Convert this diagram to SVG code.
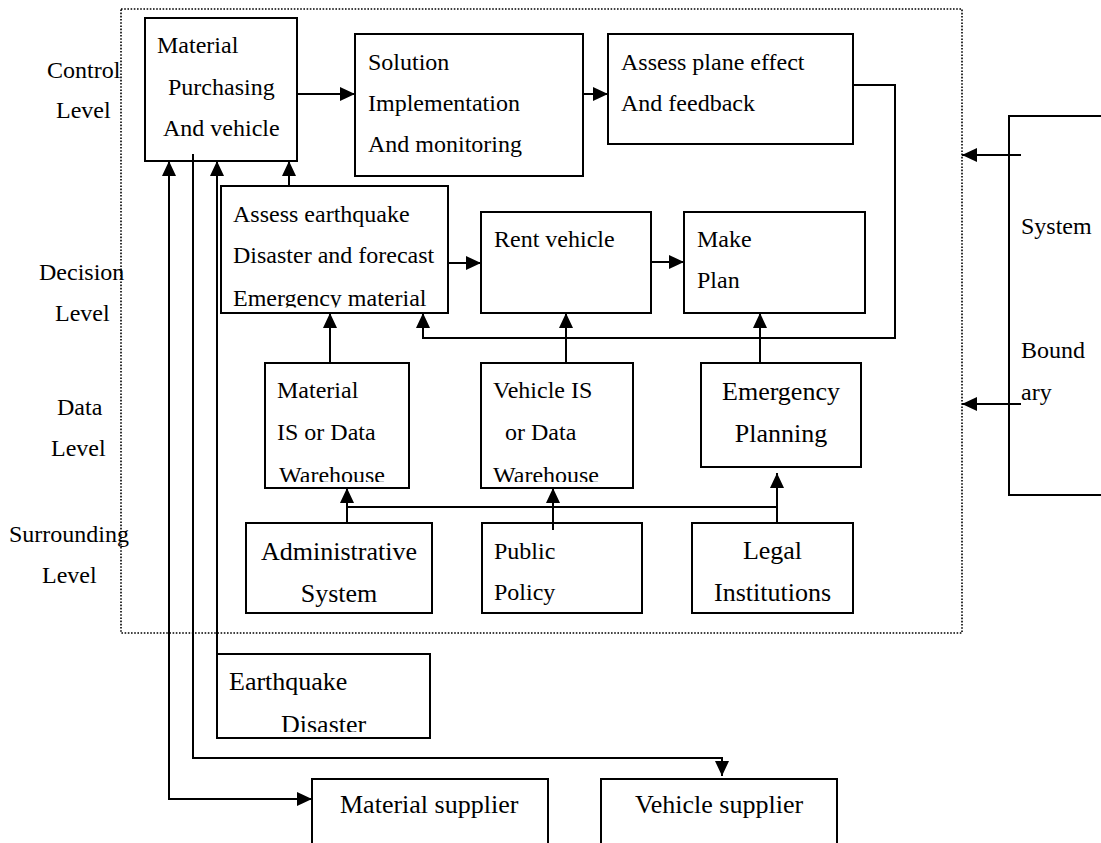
<svg xmlns="http://www.w3.org/2000/svg" width="1101" height="843" viewBox="0 0 1101 843">
  <style>
    .box { fill: #fff; stroke: #000; stroke-width: 2; }
    .frame { fill: none; stroke: #000; stroke-width: 1.6; stroke-dasharray: 1.6 1.6; }
    .t { font-family: "Liberation Serif", "Times New Roman", serif; font-size: 24px; fill: #000; }
    .tl { font-size: 26px; }
    .mid { text-anchor: middle; }
    .wire { fill: none; stroke: #000; stroke-width: 2; }
    .arr { marker-end: url(#head); }
  </style>
  <defs>
    <marker id="head" viewBox="0 0 15 14" refX="15" refY="7" markerWidth="15" markerHeight="14" markerUnits="userSpaceOnUse" orient="auto-start-reverse">
      <path d="M0,0 L15,7 L0,14 z" fill="#000"/>
    </marker>
    <clipPath id="clipEq"><rect x="220" y="186" width="228" height="121.5"/></clipPath>
    <clipPath id="clipWh1"><rect x="265" y="363" width="144" height="119"/></clipPath>
    <clipPath id="clipWh2"><rect x="481" y="363" width="152" height="119"/></clipPath>
    <clipPath id="clipDis"><rect x="217" y="654" width="213" height="78"/></clipPath>
  </defs>

  <!-- system frame -->
  <rect class="frame" x="121" y="9" width="841" height="624"/>

  <!-- level labels -->
  <g id="levels">
    <text class="t" x="47" y="78">Control</text>
    <text class="t" x="56" y="118">Level</text>
    <text class="t" x="39" y="280">Decision</text>
    <text class="t" x="55" y="321">Level</text>
    <text class="t" x="57" y="415">Data</text>
    <text class="t" x="51" y="456">Level</text>
    <text class="t" x="9" y="542">Surrounding</text>
    <text class="t" x="42" y="583">Level</text>
  </g>

  <g id="material-purchasing">
    <rect class="box" x="145" y="18" width="152" height="143"/>
    <text class="t" x="157" y="53">Material</text>
    <text class="t" x="168" y="95">Purchasing</text>
    <text class="t" x="163" y="136">And vehicle</text>
  </g>

  <g id="solution">
    <rect class="box" x="355" y="34" width="228" height="142"/>
    <text class="t" x="368" y="70">Solution</text>
    <text class="t" x="368" y="111">Implementation</text>
    <text class="t" x="368" y="152">And monitoring</text>
  </g>

  <g id="assess-plan">
    <rect class="box" x="608" y="34" width="245" height="110"/>
    <text class="t" x="621" y="70">Assess plane effect</text>
    <text class="t" x="621" y="111">And feedback</text>
  </g>

  <g id="assess-earthquake">
    <rect class="box" x="221" y="186" width="227" height="127"/>
    <text class="t" x="233" y="222">Assess earthquake</text>
    <text class="t" x="233" y="263">Disaster and forecast</text>
    <text class="t" x="233" y="306" clip-path="url(#clipEq)">Emergency material</text>
  </g>

  <g id="rent-vehicle">
    <rect class="box" x="481" y="212" width="170" height="101"/>
    <text class="t" x="494" y="247">Rent vehicle</text>
  </g>

  <g id="make-plan">
    <rect class="box" x="684" y="212" width="181" height="101"/>
    <text class="t" x="697" y="247">Make</text>
    <text class="t" x="697" y="288">Plan</text>
  </g>

  <g id="material-is">
    <rect class="box" x="265" y="363" width="144" height="125"/>
    <text class="t" x="277" y="398">Material</text>
    <text class="t" x="277" y="440">IS or Data</text>
    <text class="t" x="279" y="483" clip-path="url(#clipWh1)">Warehouse</text>
  </g>

  <g id="vehicle-is">
    <rect class="box" x="481" y="363" width="152" height="125"/>
    <text class="t" x="493" y="398">Vehicle IS</text>
    <text class="t" x="505" y="440">or Data</text>
    <text class="t" x="493" y="483" clip-path="url(#clipWh2)">Warehouse</text>
  </g>

  <g id="emergency-planning">
    <rect class="box" x="701" y="363" width="160" height="104"/>
    <text class="t tl mid" x="781" y="400">Emergency</text>
    <text class="t tl mid" x="781" y="442">Planning</text>
  </g>

  <g id="administrative">
    <rect class="box" x="246" y="523" width="186" height="90"/>
    <text class="t tl mid" x="339" y="560">Administrative</text>
    <text class="t tl mid" x="339" y="602">System</text>
  </g>

  <g id="public-policy">
    <rect class="box" x="482" y="523" width="160" height="90"/>
    <text class="t" x="494" y="559">Public</text>
    <text class="t" x="494" y="600">Policy</text>
  </g>

  <g id="legal">
    <rect class="box" x="692" y="523" width="161" height="90"/>
    <text class="t tl mid" x="772.5" y="559">Legal</text>
    <text class="t tl mid" x="772.5" y="601">Institutions</text>
  </g>

  <g id="earthquake-disaster">
    <rect class="box" x="217" y="654" width="213" height="84"/>
    <text class="t tl" x="229" y="690">Earthquake</text>
    <text class="t tl" x="281" y="732.5" clip-path="url(#clipDis)">Disaster</text>
  </g>

  <g id="material-supplier">
    <rect class="box" x="312" y="779" width="236" height="90"/>
    <text class="t tl" x="340" y="813">Material supplier</text>
  </g>

  <g id="vehicle-supplier">
    <rect class="box" x="601" y="779" width="236" height="90"/>
    <text class="t tl mid" x="719" y="813">Vehicle supplier</text>
  </g>

  <g id="system-boundary">
    <rect class="box" x="1009" y="116" width="110" height="379"/>
    <text class="t" x="1021" y="234">System</text>
    <text class="t" x="1021" y="358">Bound</text>
    <text class="t" x="1021" y="400">ary</text>
  </g>

  <!-- connectors, drawn over the boxes -->
  <g id="connectors">
    <path class="wire arr" d="M297,94 H355"/>
    <path class="wire arr" d="M583,94 H608"/>
    <path class="wire arr" d="M853,85 H895 V338 H423 V313"/>
    <path class="wire arr" d="M289,186 V161"/>
    <path class="wire arr" d="M448,263 H481"/>
    <path class="wire arr" d="M651,262 H684"/>
    <path class="wire arr" d="M330,363 V313"/>
    <path class="wire arr" d="M566,363 V313"/>
    <path class="wire arr" d="M760,363 V313"/>
    <path class="wire arr" d="M347,523 V488"/>
    <path class="wire" d="M347,507 H777"/>
    <path class="wire arr" d="M553,530 V488"/>
    <path class="wire arr" d="M777,523 V473"/>
    <path class="wire arr" d="M169,161 V799 H312" marker-start="url(#head)"/>
    <path class="wire arr" d="M193,154 V758 H722 V776"/>
    <path class="wire arr" d="M217,654 V161"/>
    <path class="wire arr" d="M1021,155 H962"/>
    <path class="wire arr" d="M1021,404 H962"/>
  </g>
</svg>
